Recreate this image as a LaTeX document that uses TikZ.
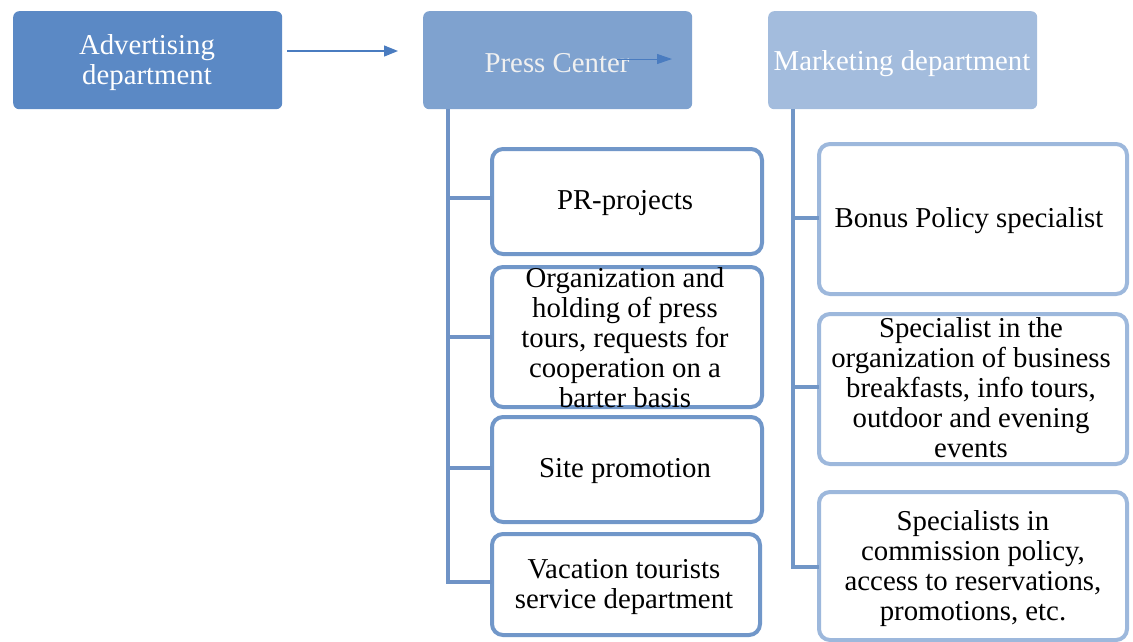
\documentclass[tikz,border=0pt]{standalone}
\usepackage{fontspec}
\setmainfont{Liberation Serif}
\usetikzlibrary{arrows.meta}
\definecolor{advfill}{HTML}{5B89C5}
\definecolor{pcfill}{HTML}{7FA2CF}
\definecolor{mkfill}{HTML}{A3BCDD}
\definecolor{pcline}{HTML}{6F93C6}
\definecolor{mkline}{HTML}{7196C7}
\definecolor{pcborder}{HTML}{7197C9}
\definecolor{mkborder}{HTML}{9DB8DC}
\definecolor{arrowblue}{HTML}{4A7CC0}
\tikzset{
  head/.style={rounded corners=6pt, draw=none, minimum width=269pt, minimum height=98pt,
    inner sep=0pt, anchor=north west},
  headtext/.style={text=white, font=\fontsize{28.8}{30}\selectfont, align=center, inner sep=0pt},
  unitbox/.style={rounded corners=11pt, line width=4pt, fill=white, anchor=north west, inner sep=0pt},
  unittext/.style={font=\fontsize{28.8}{30}\selectfont, align=center, inner sep=0pt},
  bus/.style={line width=4pt},
  flow/.style={arrowblue, line width=1.3pt, -{Triangle[length=14pt,width=11pt]}}
}
\begin{document}
\begin{tikzpicture}[x=1pt,y=-1pt]
\useasboundingbox (0,0) rectangle (1133,641);

% top-level departments
\node[head, fill=advfill, minimum width=269pt] (adv) at (13,11) {};
\node[headtext] (advt) at (147,63) {Advertising\\department};
\node[head, fill=pcfill] (pc) at (423,11) {};
\node[headtext, text=white!94!black] (pct) at (557,63) {Press Center};
\node[head, fill=mkfill] (mk) at (768,11) {};
\node[headtext] (mkt) at (902,64) {Marketing department};

\coordinate (advout) at (287,51);
\coordinate (pcin) at (398,51);
\draw[flow] (advout) -- (pcin);
\coordinate (pcarrA) at (617,59);
\coordinate (pcarrB) at (672,59);
\draw[flow, line width=1pt, -{Triangle[length=15pt,width=10pt]}] (pcarrA) -- (pcarrB);

% Press Center units
\node[unitbox, draw=pcborder, minimum width=270pt, minimum height=105pt] (pr) at (490,147) {};
\node[unittext] (prt) at (625,203) {PR-projects};
\node[unitbox, draw=pcborder, minimum width=270pt, minimum height=140pt] (org) at (490,265) {};
\node[unittext] (orgt) at (625,338) {Organization and\\holding of press\\tours, requests for\\cooperation on a\\barter basis};
\node[unitbox, draw=pcborder, minimum width=270pt, minimum height=105pt] (site) at (490,415) {};
\node[unittext] (sitet) at (625,471) {Site promotion};
\node[unitbox, draw=pcborder, minimum width=268pt, minimum height=101pt] (vac) at (490,532) {};
\node[unittext] (vact) at (624,587) {Vacation tourists\\service department};

% Marketing units
\node[unitbox, draw=mkborder, minimum width=308pt, minimum height=150pt] (bon) at (817,142) {};
\node[unittext] (bont) at (969,221) {Bonus Policy specialist};
\node[unitbox, draw=mkborder, minimum width=308pt, minimum height=150pt] (evt) at (817,312) {};
\node[unittext] (evtt) at (971,388) {Specialist in the\\organization of business\\breakfasts, info tours,\\outdoor and evening\\events};
\node[unitbox, draw=mkborder, minimum width=308pt, minimum height=148pt] (com) at (817,490) {};
\node[unittext] (comt) at (973,569) {Specialists in\\commission policy,\\access to reservations,\\promotions, etc.};

% Press Center bus
\coordinate (pcbus) at (448,109);
\draw[bus, pcline] (pcbus) |- ([xshift=2pt]vac.west|-0,582);
\draw[bus, pcline] (pcbus|-0,198) -- ([xshift=2pt]pr.west|-0,198);
\draw[bus, pcline] (pcbus|-0,337) -- ([xshift=2pt]org.west|-0,337);
\draw[bus, pcline] (pcbus|-0,468) -- ([xshift=2pt]site.west|-0,468);

% Marketing bus
\coordinate (mkbus) at (793,109);
\draw[bus, mkline] (mkbus) |- ([xshift=2pt]com.west|-0,567);
\draw[bus, mkline] (mkbus|-0,218) -- ([xshift=2pt]bon.west|-0,218);
\draw[bus, mkline] (mkbus|-0,387) -- ([xshift=2pt]evt.west|-0,387);
\end{tikzpicture}
\end{document}
